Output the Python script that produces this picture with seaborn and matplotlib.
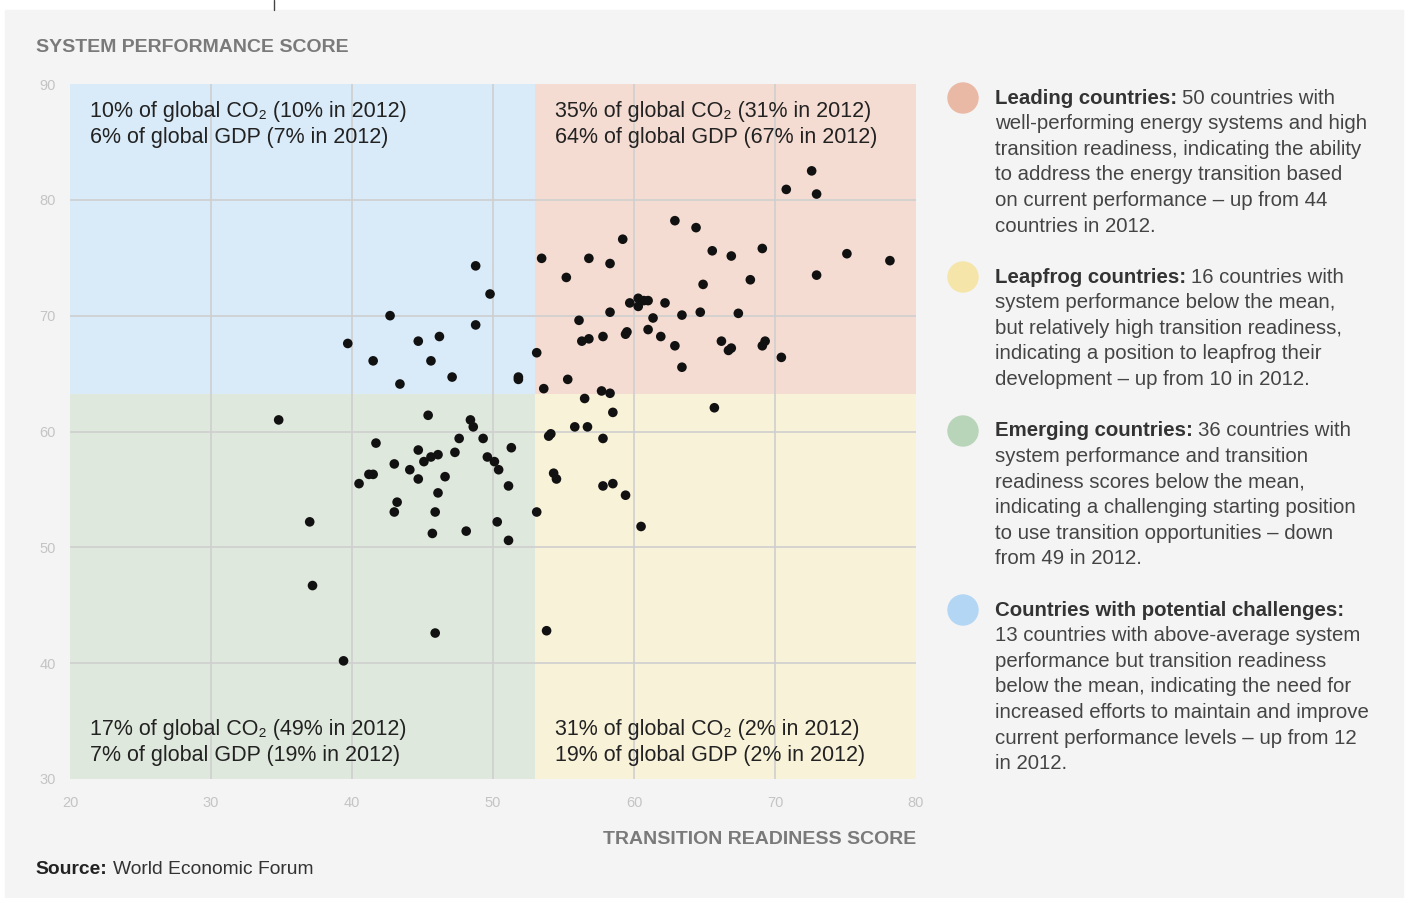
import matplotlib
matplotlib.use("Agg")
import matplotlib.pyplot as plt
from matplotlib.patches import Rectangle, Ellipse
import pandas as pd
import seaborn as sns

# data: (transition readiness, system performance)
leading_x = [72.6, 70.8, 72.95, 62.9, 64.4, 59.2, 65.55, 66.9, 69.1, 75.1,
             78.15, 53.45, 56.8, 58.3, 55.2, 72.95, 68.25, 64.9, 59.7, 60.3,
             60.3, 60.7, 61.0, 62.2, 58.3, 61.35, 63.4, 64.7, 67.4, 56.1,
             61.0, 61.9, 59.5, 59.4, 57.8, 56.8, 56.3, 62.9, 66.2, 66.7,
             66.9, 69.3, 69.1, 70.45, 63.4, 53.1, 55.3, 53.6, 57.7, 58.3]
leading_y = [82.5, 80.9, 80.5, 78.2, 77.6, 76.6, 75.6, 75.15, 75.8, 75.35,
             74.75, 74.95, 74.95, 74.5, 73.3, 73.5, 73.1, 72.7, 71.1, 71.5,
             70.8, 71.3, 71.3, 71.1, 70.3, 69.8, 70.05, 70.3, 70.2, 69.6,
             68.8, 68.2, 68.6, 68.4, 68.2, 68.0, 67.8, 67.4, 67.8, 67.0,
             67.2, 67.8, 67.4, 66.4, 65.55, 66.8, 64.5, 63.7, 63.5, 63.3]

leapfrog_x = [56.5, 65.7, 58.5, 55.8, 56.7, 54.1, 53.95, 57.8, 54.3, 54.5,
              57.8, 58.5, 59.4, 53.1, 60.5, 53.8]
leapfrog_y = [62.85, 62.05, 61.65, 60.4, 60.4, 59.8, 59.6, 59.4, 56.4, 55.9,
              55.3, 55.5, 54.5, 53.05, 51.8, 42.8]

emerging_x = [34.8, 45.4, 48.4, 48.6, 41.7, 47.6, 49.3, 51.3, 44.7, 47.3,
              46.1, 45.6, 45.1, 49.6, 50.1, 50.4, 43.0, 44.1, 41.2, 41.5,
              40.5, 44.7, 46.6, 46.1, 51.1, 43.2, 43.0, 45.9, 37.0, 50.3,
              45.7, 48.1, 51.1, 37.2, 45.9, 39.4]
emerging_y = [61.0, 61.4, 61.0, 60.4, 59.0, 59.4, 59.4, 58.6, 58.4, 58.2,
              58.0, 57.8, 57.4, 57.8, 57.4, 56.7, 57.2, 56.7, 56.3, 56.3,
              55.5, 55.9, 56.1, 54.7, 55.3, 53.9, 53.05, 53.05, 52.2, 52.2,
              51.2, 51.4, 50.6, 46.7, 42.6, 40.2]

challenge_x = [48.77, 49.79, 42.7, 48.77, 39.7, 44.7, 46.2, 41.5, 45.6, 47.1,
               43.4, 51.8, 51.8]
challenge_y = [74.3, 71.87, 70.0, 69.2, 67.6, 67.8, 68.2, 66.1, 66.1, 64.7,
               64.1, 64.7, 64.5]

# means that split the quadrants
mean_x = 53.0
mean_y = 63.2

quad_text = {
    "challenge": ["10% of global CO\u2082 (10% in 2012)", "6% of global GDP (7% in 2012)"],
    "leading": ["35% of global CO\u2082 (31% in 2012)", "64% of global GDP (67% in 2012)"],
    "emerging": ["17% of global CO\u2082 (49% in 2012)", "7% of global GDP (19% in 2012)"],
    "leapfrog": ["31% of global CO\u2082 (2% in 2012)", "19% of global GDP (2% in 2012)"],
}

legend_heads = ["Leading countries:", "Leapfrog countries:",
                "Emerging countries:", "Countries with potential challenges:"]
legend_bodies = [
    ["50 countries with",
     "well-performing energy systems and high",
     "transition readiness, indicating the ability",
     "to address the energy transition based",
     "on current performance \u2013 up from 44",
     "countries in 2012."],
    ["16 countries with",
     "system performance below the mean,",
     "but relatively high transition readiness,",
     "indicating a position to leapfrog their",
     "development \u2013 up from 10 in 2012."],
    ["36 countries with",
     "system performance and transition",
     "readiness scores below the mean,",
     "indicating a challenging starting position",
     "to use transition opportunities \u2013 down",
     "from 49 in 2012."],
    ["",
     "13 countries with above-average system",
     "performance but transition readiness",
     "below the mean, indicating the need for",
     "increased efforts to maintain and improve",
     "current performance levels \u2013 up from 12",
     "in 2012."],
]
legend_colors = ["#e9b9a5", "#f5e5a9", "#b9d5b9", "#b3d6f4"]
legend_tops = [98, 277, 431, 610]

df = pd.DataFrame({
    "readiness": leading_x + leapfrog_x + emerging_x + challenge_x,
    "performance": leading_y + leapfrog_y + emerging_y + challenge_y,
})

sns.set_theme(style="white")
plt.rcParams["font.family"] = ["Liberation Sans", "DejaVu Sans"]

W, H = 1407, 898
fig = plt.figure(figsize=(W / 100, H / 100), dpi=100, facecolor="white")

def fx(px):
    return px / W

def fy(py):
    return 1 - py / H

# grey panel and the small mark at the top
fig.patches.append(Rectangle((fx(5), fy(897)), fx(1398), (897 - 10) / H,
                             transform=fig.transFigure, color="#f4f4f4", zorder=-10))
fig.add_artist(plt.Line2D([fx(274), fx(274)], [fy(0), fy(10)], color="#444444", lw=1))

ax = fig.add_axes([fx(70), fy(779), fx(916 - 70), (779 - 84) / H])
ax.set_facecolor("none")

# quadrant backgrounds
quads = [
    (20, mean_y, mean_x - 20, 90 - mean_y, "#d9eaf8"),
    (mean_x, mean_y, 80 - mean_x, 90 - mean_y, "#f5dcd2"),
    (20, 30, mean_x - 20, mean_y - 30, "#dfe8dc"),
    (mean_x, 30, 80 - mean_x, mean_y - 30, "#f8f2d8"),
]
for x0, y0, w, h, c in quads:
    ax.add_patch(Rectangle((x0, y0), w, h, color=c, lw=0, zorder=0.2))

sns.scatterplot(data=df, x="readiness", y="performance", color="#111111",
                s=48, edgecolor="none", ax=ax, zorder=3)

ax.set_xlim(20, 80)
ax.set_ylim(30, 90)
ax.set_xticks(range(20, 81, 10))
ax.set_yticks(range(30, 91, 10))
ax.grid(True, color="#cfcfcf", lw=1.2)
ax.set_axisbelow(True)
for gl in [ax.xaxis.get_gridlines()[0], ax.xaxis.get_gridlines()[-1],
           ax.yaxis.get_gridlines()[0], ax.yaxis.get_gridlines()[-1]]:
    gl.set_visible(False)
for sp in ax.spines.values():
    sp.set_visible(False)
ax.tick_params(length=0, labelsize=10.5, labelcolor="#c4c4c4")
ax.tick_params(axis="x", pad=12)
ax.tick_params(axis="y", pad=10)
ax.set_xlabel("")
ax.set_ylabel("")

# quadrant annotations
qfont = dict(fontsize=15.5, color="#222222", va="center", ha="left")
qpos = {"challenge": (90, 112), "leading": (555, 112),
        "emerging": (90, 730), "leapfrog": (555, 730)}
for key, lines in quad_text.items():
    px, py = qpos[key]
    for i, line in enumerate(lines):
        fig.text(fx(px), fy(py + i * 25), line, **qfont)

# axis titles
fig.text(fx(36), fy(48), "SYSTEM PERFORMANCE SCORE", fontsize=14, fontweight="bold",
         color="#7a7a7a", va="center", ha="left")
fig.text(fx(916), fy(839), "TRANSITION READINESS SCORE", fontsize=14, fontweight="bold",
         color="#7a7a7a", va="center", ha="right")

# source line
renderer = fig.canvas.get_renderer()
src = fig.text(fx(36), fy(870), "Source:", fontsize=13.9, fontweight="bold",
               color="#222222", va="center", ha="left")
x1 = src.get_window_extent(renderer).x1
fig.text((x1 + 5) / W, fy(870), "World Economic Forum", fontsize=13.9,
         color="#333333", va="center", ha="left")

# legend on the right
line_h = 25.6
for head, body, col, top in zip(legend_heads, legend_bodies, legend_colors, legend_tops):
    fig.patches.append(Ellipse((fx(963), fy(top)), 30 / W, 30 / H,
                               transform=fig.transFigure, color=col, zorder=2))
    t = fig.text(fx(995), fy(top), head, fontsize=14.7, fontweight="bold",
                 color="#333333", va="center", ha="left")
    x1 = t.get_window_extent(renderer).x1
    if body[0]:
        fig.text((x1 + 5) / W, fy(top), body[0], fontsize=14.7, color="#444444",
                 va="center", ha="left")
    for i, line in enumerate(body[1:], start=1):
        fig.text(fx(995), fy(top + i * line_h), line, fontsize=14.7, color="#444444",
                 va="center", ha="left")

fig.savefig("out.png", dpi=100, facecolor="white")
